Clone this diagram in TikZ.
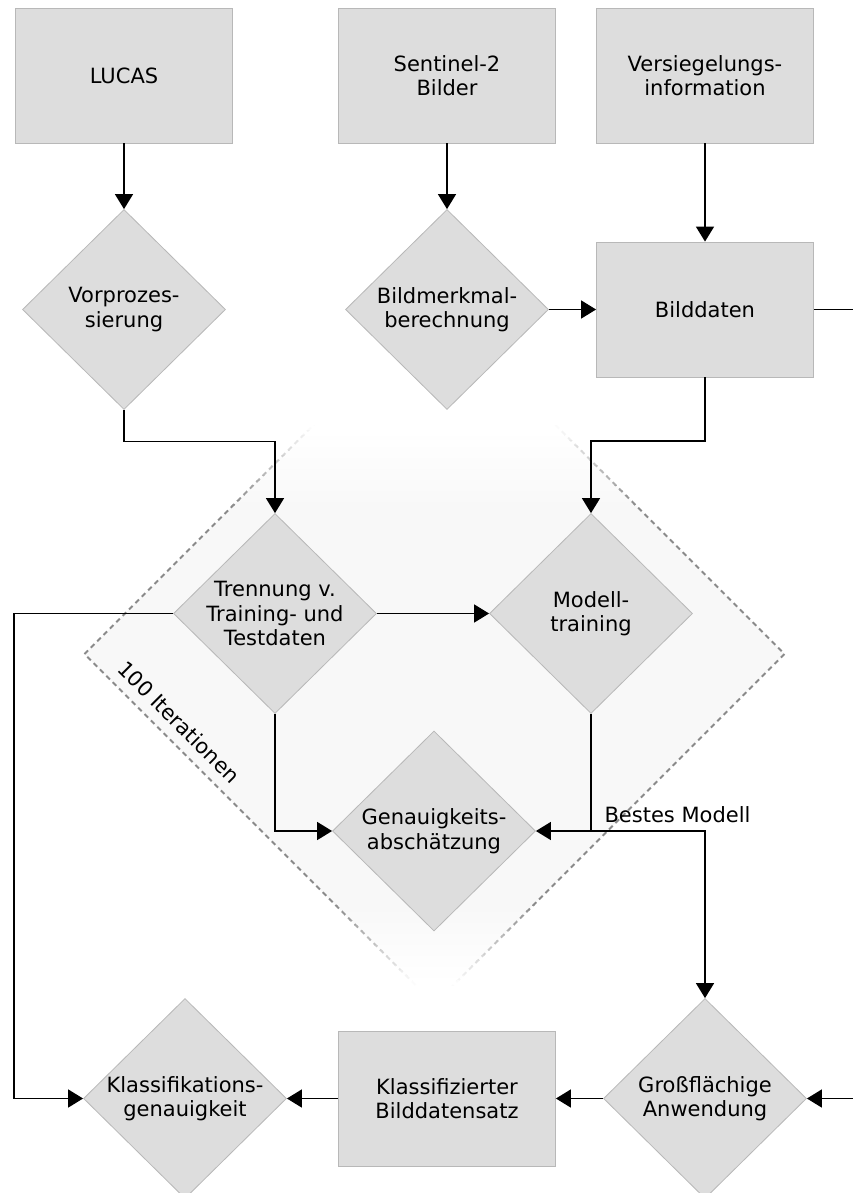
\documentclass[tikz,border=0pt]{standalone}
\usepackage{fontspec}
\setmainfont{DejaVu Sans}
\usetikzlibrary{shapes.geometric,arrows.meta}
\definecolor{boxfill}{HTML}{DDDDDD}
\definecolor{boxline}{HTML}{B8B8B8}
\definecolor{loopfill}{HTML}{F8F8F8}
\definecolor{loopline}{HTML}{8A8A8A}
\pgfdeclareverticalshading{loopfillshade}{100bp}{color(0bp)=(white); color(26.5bp)=(white); color(32bp)=(loopfill); color(60.5bp)=(loopfill); color(66bp)=(white); color(100bp)=(white)}
\newcommand{\loopdiamond}[1]{\draw[#1] (84.5,654) -- (434.5,304) -- (784.5,654) -- (434.5,1004) -- cycle;}
\tikzset{
  every node/.style={font=\fontsize{21}{24.5}\selectfont},
  datbox/.style={rectangle, draw=boxline, fill=boxfill, line width=0.8pt,
    minimum width=217pt, minimum height=135pt, align=center, inner sep=0pt},
  procdia/.style={diamond, draw=boxline, fill=boxfill, line width=0.8pt,
    minimum width=203pt, minimum height=200pt, align=center, inner sep=-6pt},
  conn/.style={line width=1.5pt, -{Triangle[length=15pt,width=18pt]}},
  plainline/.style={line width=1.5pt},
  loopdash/.style={line width=2pt, dash pattern=on 5pt off 4pt},
}
\begin{document}
\begin{tikzpicture}[x=1pt,y=-1pt]
\useasboundingbox (0,0) rectangle (853,1193);
\fill[white] (0,0) rectangle (853,1193);
% iteration frame: fill fading out at top and bottom
\shade[shading=loopfillshade] (84.5,654) -- (434.5,304) -- (784.5,654) -- (434.5,1004) -- cycle;
\begin{scope}
  \clip (0,504.5) rectangle (853,905.5);
  \loopdiamond{loopdash, draw=loopline}
\end{scope}
\foreach \i in {0,...,15} {
  \pgfmathsetmacro\ya{425+5*\i}
  \pgfmathsetmacro\yb{\ya+5.5}
  \pgfmathtruncatemacro\pct{(\i+0.5)/16*100}
  \begin{scope}
    \clip (0,\ya) rectangle (853,\yb);
    \loopdiamond{loopdash, draw=loopline!\pct!white}
  \end{scope}
  \pgfmathsetmacro\yc{905+5*\i}
  \pgfmathsetmacro\yd{\yc+5.5}
  \pgfmathtruncatemacro\pcb{100-(\i+0.5)/16*100}
  \begin{scope}
    \clip (0,\yc) rectangle (853,\yd);
    \loopdiamond{loopdash, draw=loopline!\pcb!white}
  \end{scope}
}
\node[rotate=-45] (iter) at (179,722) {100 Iterationen};
% nodes
\node[datbox] (lucas) at (124,75.5) {LUCAS};
\node[datbox] (sent) at (447,75.5) {Sentinel-2\\Bilder};
\node[datbox] (vers) at (705,75.5) {Versiegelungs-\\information};
\node[procdia] (vorp) at (124,309.5) {Vorprozes-\\sierung};
\node[procdia] (bildm) at (447,309.5) {Bildmerkmal-\\berechnung};
\node[datbox] (bildd) at (705,309.5) {Bilddaten};
\node[procdia] (trenn) at (275,613.5) {Trennung v.\\Training- und\\Testdaten};
\node[procdia] (modell) at (591,613.5) {Modell-\\training};
\node[procdia] (genau) at (434,831) {Genauigkeits-\\absch\"atzung};
\node[procdia] (gross) at (705,1098.5) {Gro\ss{}fl\"achige\\Anwendung};
\node[datbox] (klbild) at (447,1098.5) {Klassifizierter\\Bilddatensatz};
\node[procdia] (klgen) at (185,1098.5) {Klassifikations-\\genauigkeit};
\coordinate (rightout) at (853,309.5);
\coordinate (rightin) at (853,1098.5);
\coordinate (leftrail) at (14,613.5);
% connectors
\draw[conn] (lucas.south) -- (vorp.north);
\draw[conn] (sent.south) -- (bildm.north);
\draw[conn] (vers.south) -- (bildd.north);
\draw[conn] (bildm.east) -- (bildd.west);
\draw[plainline] (bildd.east) -- (rightout);
\draw[conn] (vorp.south) -- ++(0,31.5) -| (trenn.north);
\draw[conn] (bildd.south) -- ++(0,63.5) -| (modell.north);
\draw[conn] (trenn.east) -- (modell.west);
\draw[conn] (trenn.west) -- (leftrail) |- (klgen.west);
\draw[conn] (trenn.south) |- (genau.west);
\draw[conn] (modell.south) |- (genau.east);
\draw[conn] (modell.south |- genau.east) -| (gross.north);
\node[anchor=base west] (best) at (601,822) {Bestes Modell};
\draw[conn] (rightin) -- (gross.east);
\draw[conn] (gross.west) -- (klbild.east);
\draw[conn] (klbild.west) -- (klgen.east);
\end{tikzpicture}
\end{document}
